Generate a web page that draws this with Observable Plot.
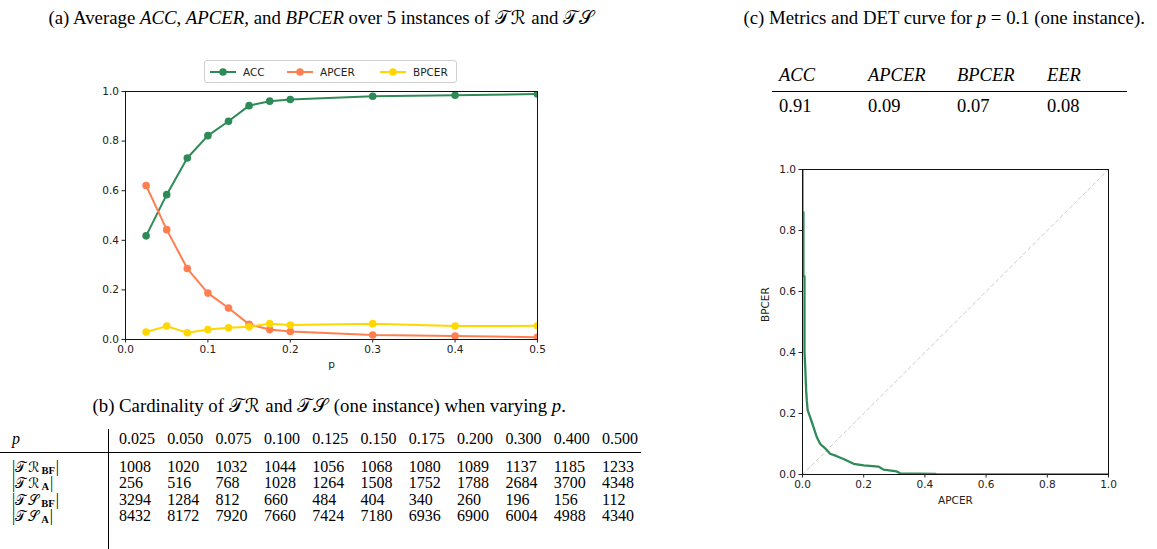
<!DOCTYPE html>
<html><head><meta charset="utf-8">
<script src="https://cdn.jsdelivr.net/npm/d3@7"></script>
<script src="https://cdn.jsdelivr.net/npm/@observablehq/plot@0.6"></script>
<style>
body{margin:0;background:#fff;}
#root{position:relative;width:1157px;height:549px;overflow:hidden;font-family:"Liberation Serif","Times New Roman",serif;color:#000;}
.abs{position:absolute;white-space:nowrap;}
.cap{font-size:18.8px;line-height:22px;}
.cellc{font-size:18.5px;line-height:22px;}
.cell{font-size:16px;line-height:15px;height:15px;}
.scr{font-family:"DejaVu Serif","DejaVu Sans",serif;letter-spacing:1px;}
.lab .scr{font-size:14px;line-height:13px;letter-spacing:2px;}
.sb{font-size:10.5px;line-height:9px;font-weight:bold;position:relative;top:2px;margin-right:1px;}
.legend{position:absolute;border:1px solid #d0d0d0;border-radius:3px;background:#fff;font-family:"DejaVu Sans",sans-serif;font-size:10.5px;color:#222;}
</style></head><body><div id="root"></div>
<script>
// ---- (a) averaged metrics ----
const pValues = [0.025, 0.05, 0.075, 0.1, 0.125, 0.15, 0.175, 0.2, 0.3, 0.4, 0.5];
const accValues = [0.418, 0.584, 0.732, 0.822, 0.880, 0.943, 0.961, 0.968, 0.981, 0.985, 0.990];
const apcerValues = [0.621, 0.443, 0.286, 0.187, 0.127, 0.061, 0.040, 0.032, 0.018, 0.014, 0.009];
const bpcerValues = [0.030, 0.054, 0.027, 0.040, 0.047, 0.051, 0.064, 0.058, 0.064, 0.054, 0.055];
const seriesNames = ["ACC", "APCER", "BPCER"];
const seriesColors = ["#2e8b57", "#ff7f50", "#ffd700"];
const axisTicksA = [0, 0.1, 0.2, 0.3, 0.4, 0.5];
const axisTicksY = [0, 0.2, 0.4, 0.6, 0.8, 1.0];

// ---- (b) cardinality table ----
const tableP = ["0.025","0.050","0.075","0.100","0.125","0.150","0.175","0.200","0.300","0.400","0.500"];
const trBF = [1008, 1020, 1032, 1044, 1056, 1068, 1080, 1089, 1137, 1185, 1233];
const trA  = [256, 516, 768, 1028, 1264, 1508, 1752, 1788, 2684, 3700, 4348];
const tsBF = [3294, 1284, 812, 660, 484, 404, 340, 260, 196, 156, 112];
const tsA  = [8432, 8172, 7920, 7660, 7424, 7180, 6936, 6900, 6004, 4988, 4340];
const rowSets = ["𝒯ℛ", "𝒯ℛ", "𝒯𝒮", "𝒯𝒮"];
const rowSubs = ["BF", "A", "BF", "A"];

// ---- (c) metrics + DET curve ----
const metricNames = ["ACC", "APCER", "BPCER", "EER"];
const metricValues = ["0.91", "0.09", "0.07", "0.08"];
const detApcer = [0, 0, 0.003, 0.003, 0.0065, 0.0065, 0.009, 0.012, 0.014, 0.017, 0.025, 0.036, 0.047, 0.058, 0.074, 0.09, 0.112, 0.134, 0.167, 0.2, 0.248, 0.265, 0.308, 0.319, 0.434, 0.44, 1.0];
const detBpcer = [1.0, 0.86, 0.86, 0.65, 0.65, 0.405, 0.35, 0.275, 0.243, 0.21, 0.188, 0.155, 0.122, 0.1, 0.086, 0.068, 0.06, 0.051, 0.035, 0.03, 0.026, 0.016, 0.01, 0.004, 0.002, 0, 0];
const chanceLine = [0, 1];

const root = document.getElementById("root");
function addDiv(html, left, top, cls, extra) {
  const d = document.createElement("div");
  d.className = "abs " + (cls || "");
  d.innerHTML = html;
  d.style.left = left + "px";
  d.style.top = top + "px";
  if (extra) Object.assign(d.style, extra);
  root.appendChild(d);
  return d;
}
function centerDiv(html, cx, top, cls) {
  const d = addDiv(html, 0, top, cls);
  d.style.left = (cx - d.offsetWidth / 2) + "px";
  return d;
}

// captions
centerDiv('(a) Average <i>ACC</i>, <i>APCER</i>, and <i>BPCER</i> over 5 instances of <span class="scr">𝒯ℛ</span> and <span class="scr">𝒯𝒮</span>', 322, 7, "cap");
centerDiv('(c) Metrics and DET curve for <i>p</i> = 0.1 (one instance).', 944, 7, "cap");
centerDiv('(b) Cardinality of <span class="scr">𝒯ℛ</span> and <span class="scr">𝒯𝒮</span> (one instance) when varying <i>p</i>.', 329, 395, "cap");

// ---- chart (a) ----
const longData = [];
pValues.forEach((p, i) => {
  longData.push({p, v: accValues[i], s: "ACC"});
  longData.push({p, v: apcerValues[i], s: "APCER"});
  longData.push({p, v: bpcerValues[i], s: "BPCER"});
});
const seriesMarks = seriesNames.flatMap(name => {
  const d = longData.filter(r => r.s === name);
  return [
    Plot.line(d, {x: "p", y: "v", stroke: "s", strokeWidth: 2, clip: true}),
    Plot.dot(d, {x: "p", y: "v", fill: "s", r: 3.8, clip: true})
  ];
});
const chartA = Plot.plot({
  width: 470, height: 290,
  marginLeft: 40, marginRight: 18, marginTop: 6, marginBottom: 36,
  style: {fontFamily: "DejaVu Sans", fontSize: "10.5px", color: "#222", background: "transparent", overflow: "visible"},
  x: {domain: [0, 0.5]},
  y: {domain: [0, 1]},
  color: {domain: seriesNames, range: seriesColors},
  marks: [
    ...seriesMarks,
    Plot.frame({stroke: "#111", strokeWidth: 1}),
    Plot.axisX({ticks: axisTicksA, tickFormat: d3.format(".1f"), tickSize: 3.5, tickPadding: 3, label: null, fontSize: 10.5}),
    Plot.axisY({ticks: axisTicksY, tickFormat: d3.format(".1f"), tickSize: 3.5, tickPadding: 3, label: null, fontSize: 10.5}),
    Plot.text(["p"], {frameAnchor: "bottom", dy: 28, text: d => d, fontSize: 10.5})
  ]
});
chartA.style.position = "absolute";
chartA.style.left = "85px";
chartA.style.top = "85px";
root.appendChild(chartA);

// legend (a)
const legend = document.createElement("div");
legend.className = "legend";
Object.assign(legend.style, {left: "204px", top: "60px", width: "251px", height: "21px"});
const legendX = [5, 82, 175];
seriesNames.forEach((name, i) => {
  const item = document.createElement("div");
  item.style.position = "absolute";
  item.style.left = legendX[i] + "px";
  item.style.top = "0px";
  item.style.height = "21px";
  item.style.display = "flex";
  item.style.alignItems = "center";
  item.innerHTML = `<svg width="26" height="10" style="margin-right:7px"><line x1="0" x2="26" y1="5" y2="5" stroke="${seriesColors[i]}" stroke-width="2"/><circle cx="13" cy="5" r="3.8" fill="${seriesColors[i]}"/></svg><span>${name}</span>`;
  legend.appendChild(item);
});
root.appendChild(legend);

// ---- table (b) ----
const colX = i => 119 + i * 48.3;
const rowTops = [458.5, 475, 491.5, 508];
addDiv('<i>p</i>', 12, 430.5, "cell");
tableP.forEach((v, i) => addDiv(v, colX(i), 430.5, "cell"));
addDiv("", 0, 452, "", {width: "641px", height: "0px", borderTop: "1px solid #000"});
addDiv("", 108, 429, "", {width: "0px", height: "125px", borderLeft: "1px solid #000"});
[trBF, trA, tsBF, tsA].forEach((row, r) => {
  addDiv('|<span class="scr">' + rowSets[r] + '</span><span class="sb">' + rowSubs[r] + '</span>|', 12, rowTops[r], "cell lab");
  row.forEach((v, i) => addDiv(String(v), colX(i), rowTops[r], "cell"));
});

// ---- table (c) ----
const metricX = [779, 868, 957, 1047];
metricNames.forEach((m, i) => addDiv('<i>' + m + '</i>', metricX[i], 64, "cellc"));
addDiv("", 772, 91, "", {width: "355px", height: "0px", borderTop: "1px solid #000"});
metricValues.forEach((v, i) => addDiv(v, metricX[i], 95, "cellc"));

// ---- chart (c) DET ----
const detData = detApcer.map((a, i) => ({a, b: detBpcer[i]}));
const chartC = Plot.plot({
  width: 360, height: 355,
  marginLeft: 42, marginRight: 12, marginTop: 9, marginBottom: 41,
  style: {fontFamily: "DejaVu Sans", fontSize: "10.5px", color: "#222", background: "transparent", overflow: "visible"},
  x: {domain: [0, 1]},
  y: {domain: [0, 1]},
  marks: [
    Plot.line(chanceLine, {x: d => d, y: d => d, stroke: "#cccccc", strokeWidth: 1, strokeDasharray: "3.5,3"}),
    Plot.line(detData, {x: "a", y: "b", stroke: "#2e8b57", strokeWidth: 2.3, clip: true}),
    Plot.frame({stroke: "#111", strokeWidth: 1}),
    Plot.axisX({ticks: axisTicksY, tickFormat: d3.format(".1f"), tickSize: 3.5, tickPadding: 3, label: null, fontSize: 10.5}),
    Plot.axisY({ticks: axisTicksY, tickFormat: d3.format(".1f"), tickSize: 3.5, tickPadding: 3, label: null, fontSize: 10.5}),
    Plot.text(["APCER"], {frameAnchor: "bottom", dy: 29, text: d => d, fontSize: 10.5}),
    Plot.text(["BPCER"], {frameAnchor: "left", dx: -37, rotate: -90, text: d => d, fontSize: 10.5})
  ]
});
chartC.style.position = "absolute";
chartC.style.left = "760px";
chartC.style.top = "160px";
root.appendChild(chartC);
</script>
</body></html>
